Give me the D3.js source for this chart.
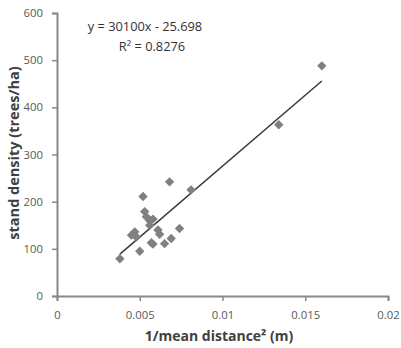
<!DOCTYPE html>
<html>
<head>
<meta charset="utf-8">
<script src="https://cdn.jsdelivr.net/npm/d3@7"></script>
<style>
	body { margin: 0; background: #fff; }
	text { font-family: "Open Sans", sans-serif; }
</style>
</head>
<body>
<div id="chart"></div>
<script>
	// 1/mean distance^2 vs stand density
	var xValues = [0.0038, 0.0045, 0.0047, 0.0048, 0.0050, 0.0052, 0.0053, 0.0054, 0.0056, 0.0056,
		0.0057, 0.0058, 0.0058, 0.0061, 0.0062, 0.0065, 0.0068, 0.0069, 0.0074, 0.0081, 0.0134, 0.0160];
	var yValues = [79, 129, 136, 125, 95, 211, 179, 168, 160, 150,
		113, 163, 110, 140, 131, 111, 242, 122, 143, 225, 363, 488];
	var xTicks = [0, 0.005, 0.01, 0.015, 0.02];
	var yTicks = [0, 100, 200, 300, 400, 500, 600];
	var slope = 30100, intercept = -25.698, r2 = 0.8276;

	var w = 401, h = 348,
		margin = {left: 57, right: 13, top: 13, bottom: 52};

	var svg = d3.select("#chart").append("svg")
		.attr("width", w)
		.attr("height", h);

	var x = d3.scaleLinear().domain([0, 0.02]).range([margin.left, w - margin.right]);
	var y = d3.scaleLinear().domain([0, 600]).range([h - margin.bottom, margin.top]);

	var axisColor = "#888",
		labelColor = "#595959";

	// y axis
	var yAxis = svg.append("g")
		.attr("transform", "translate(" + margin.left + ",0)")
		.call(d3.axisLeft(y).tickValues(yTicks).tickSize(5).tickPadding(9).tickFormat(d3.format("d")));

	// x axis
	var xAxis = svg.append("g")
		.attr("transform", "translate(0," + y(0) + ")")
		.call(d3.axisBottom(x).tickValues(xTicks).tickSize(5).tickPadding(10).tickFormat(function(d){ return d === 0 ? "0" : String(+d.toFixed(3)); }));

	[xAxis, yAxis].forEach(function(a){
		a.select(".domain").attr("stroke", axisColor).attr("stroke-width", 2);
		a.selectAll(".tick line").attr("stroke", axisColor).attr("stroke-width", 1.5);
		a.selectAll(".tick text")
			.attr("fill", labelColor)
			.style("font-size", "11.3px");
	});

	// trend line across the data range
	var xMin = d3.min(xValues), xMax = d3.max(xValues);
	svg.append("line")
		.attr("x1", x(xMin))
		.attr("y1", y(slope * xMin + intercept))
		.attr("x2", x(xMax))
		.attr("y2", y(slope * xMax + intercept))
		.attr("stroke", "#3a3a3a")
		.attr("stroke-width", 1.5);

	// diamond markers
	var diamond = d3.symbol().type(d3.symbolSquare).size(44);
	svg.append("g").selectAll("path")
		.data(d3.zip(xValues, yValues))
		.enter().append("path")
		.attr("d", diamond)
		.attr("transform", function(d){ return "translate(" + x(d[0]) + "," + y(d[1]) + ") rotate(45)"; })
		.attr("fill", "#808080");

	// equation
	svg.append("text")
		.attr("x", 145)
		.attr("y", 31)
		.attr("text-anchor", "middle")
		.attr("fill", "#333")
		.style("font-size", "12.8px")
		.text("y = 30100x - 25.698");

	svg.append("text")
		.attr("x", 152)
		.attr("y", 51)
		.attr("text-anchor", "middle")
		.attr("fill", "#333")
		.style("font-size", "12.8px")
		.text("R² = " + r2);

	// axis titles
	svg.append("text")
		.attr("x", 219)
		.attr("y", 341)
		.attr("text-anchor", "middle")
		.attr("fill", "#404040")
		.style("font-size", "14px")
		.style("font-weight", "bold")
		.text("1/mean distance² (m)");

	svg.append("text")
		.attr("transform", "translate(19,153) rotate(-90)")
		.attr("text-anchor", "middle")
		.attr("fill", "#404040")
		.style("font-size", "14.5px")
		.style("font-weight", "bold")
		.text("stand density (trees/ha)");
</script>
</body>
</html>
